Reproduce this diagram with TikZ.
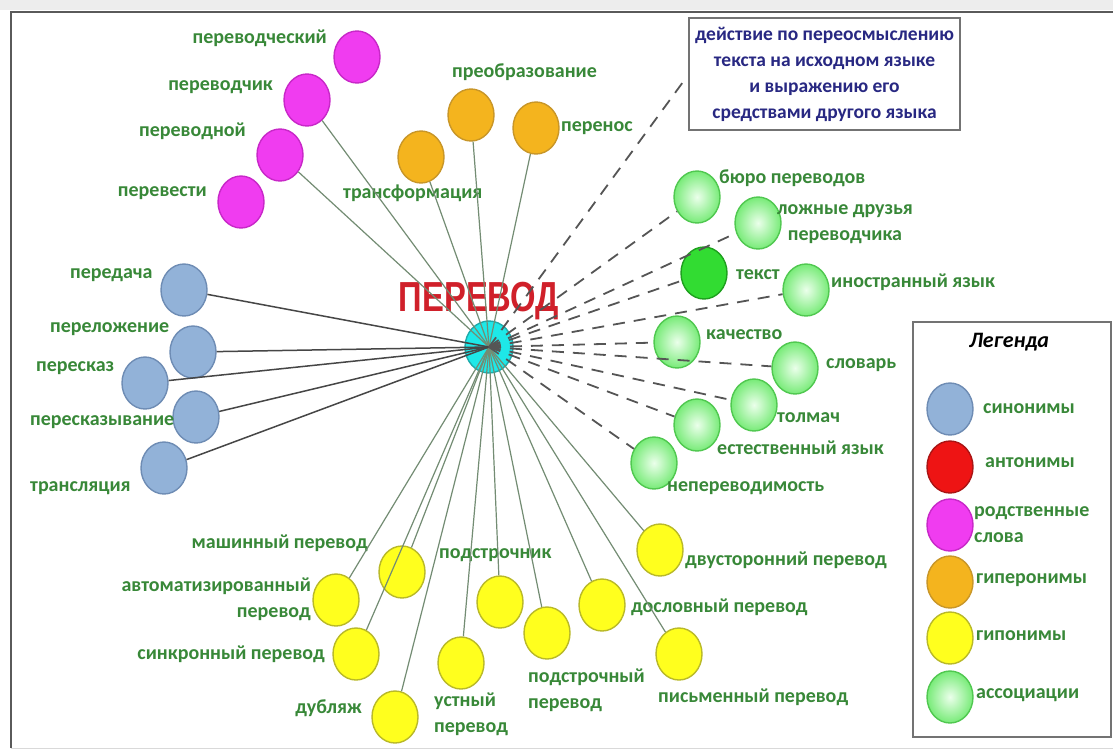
\documentclass[tikz,border=0pt]{standalone}
\usepackage{fontspec}
\setmainfont{Carlito}
\newfontfamily\titlefont{Liberation Sans}
\usetikzlibrary{shapes.geometric}
\definecolor{magF}{RGB}{240,60,240}
\definecolor{magD}{RGB}{200,40,200}
\definecolor{orF}{RGB}{244,180,30}
\definecolor{orD}{RGB}{200,150,40}
\definecolor{blF}{RGB}{146,178,216}
\definecolor{blD}{RGB}{110,140,180}
\definecolor{yeF}{RGB}{255,255,30}
\definecolor{yeD}{RGB}{185,185,40}
\definecolor{grIn}{RGB}{235,255,235}
\definecolor{grOut}{RGB}{120,235,120}
\definecolor{grD}{RGB}{80,200,80}
\definecolor{txF}{RGB}{50,220,50}
\definecolor{txD}{RGB}{30,160,30}
\definecolor{rdF}{RGB}{238,20,20}
\definecolor{rdD}{RGB}{170,20,20}
\definecolor{cyF}{RGB}{30,232,232}
\definecolor{cyD}{RGB}{30,170,170}
\definecolor{lblC}{RGB}{56,136,56}
\definecolor{defC}{RGB}{40,40,130}
\definecolor{titleC}{RGB}{208,32,42}
\definecolor{edgeC}{RGB}{115,140,115}
\definecolor{synC}{RGB}{70,70,70}
\definecolor{dashC}{RGB}{85,85,85}
\definecolor{frameC}{RGB}{90,90,90}
\begin{document}
\begin{tikzpicture}[x=1pt,y=-1pt,
  ball/.style={ellipse,minimum width=46pt,minimum height=52pt,inner sep=0pt,line width=1.4pt},
  mag/.style={ball,fill=magF,draw=magD},
  ora/.style={ball,fill=orF,draw=orD},
  blu/.style={ball,fill=blF,draw=blD},
  yel/.style={ball,fill=yeF,draw=yeD},
  gre/.style={ball,inner color=grIn,outer color=grOut,draw=grD},
  txt/.style={ball,fill=txF,draw=txD},
  red/.style={ball,fill=rdF,draw=rdD},
  hubnode/.style={ball,minimum width=48pt,minimum height=52pt,fill=cyF,draw=cyD},
  lbl/.style={font=\bfseries\fontsize{20}{26}\selectfont,text=lblC,inner sep=0pt},
  edgeline/.style={draw=edgeC,line width=1.2pt},
  synline/.style={draw=synC,line width=1.5pt},
  assocline/.style={draw=dashC,line width=1.8pt,dash pattern=on 12pt off 9pt}
]
\useasboundingbox (0,0) rectangle (1113,753);
\fill[white] (0,0) rectangle (1113,753);
\fill[black!7] (0,0) rectangle (1113,10);
\draw[frameC,line width=2.5pt] (1113,12) -- (11,12) -- (11,748);
\draw[black!15,line width=1pt] (11,748) -- (1113,748);

% title
\node[font=\titlefont\bfseries\fontsize{42}{42}\selectfont,text=titleC,xscale=0.78,inner sep=0pt] (title) at (479,301) {ПЕРЕВОД};

% definition box
\node[draw=black!55,line width=2pt,minimum width=271pt,minimum height=112pt,align=center,
  font=\bfseries\fontsize{19.5}{26}\selectfont,text=defC,inner sep=2pt] (def) at (824.5,74)
  {действие по переосмыслению\\текста на исходном языке\\и выражению его\\средствами другого языка};
\coordinate (defend) at (683,82);

% hub
\node[hubnode] (hub) at (489,347) {};

% magenta
\node[mag] (m1) at (357,57) {};
\node[mag] (m2) at (307,100) {};
\node[mag] (m3) at (280,155) {};
\node[mag] (m4) at (241,202) {};
\node[lbl,anchor=east] (lm1) at (327,38) {переводческий};
\node[lbl,anchor=east] (lm2) at (273,87) {переводчик};
\node[lbl,anchor=east] (lm3) at (246,131) {переводной};
\node[lbl,anchor=east] (lm4) at (207,193) {перевести};

% orange
\node[ora] (o1) at (471,115) {};
\node[ora] (o2) at (536,128) {};
\node[ora] (o3) at (421,157) {};
\node[lbl,anchor=west] (lo1) at (452,72) {преобразование};
\node[lbl,anchor=west] (lo2) at (561,128) {перенос};
\node[lbl,anchor=west] (lo3) at (343,193) {трансформация};

% blue
\node[blu] (b1) at (184,290) {};
\node[blu] (b2) at (193,352) {};
\node[blu] (b3) at (145,383) {};
\node[blu] (b4) at (196,417) {};
\node[blu] (b5) at (164,468) {};
\node[lbl,anchor=west] (lb1) at (70,275) {передача};
\node[lbl,anchor=west] (lb2) at (50,329) {переложение};
\node[lbl,anchor=west] (lb3) at (36,368) {пересказ};
\node[lbl,anchor=west] (lb4) at (30,422) {пересказывание};
\node[lbl,anchor=west] (lb5) at (30,488) {трансляция};

% green
\node[gre] (g1) at (697,197) {};
\node[gre] (g2) at (758,223) {};
\node[txt] (g3) at (704,273) {};
\node[gre] (g4) at (806,290) {};
\node[gre] (g5) at (677,342) {};
\node[gre] (g6) at (795,368) {};
\node[gre] (g7) at (754,405) {};
\node[gre] (g8) at (697,425) {};
\node[gre] (g9) at (654,463) {};
\node[lbl,anchor=west] (lg1) at (719,178) {бюро переводов};
\node[lbl,align=center] (lg2) at (845,224) {ложные друзья\\переводчика};
\node[lbl,anchor=west] (lg3) at (736,275) {текст};
\node[lbl,anchor=west] (lg4) at (831,282) {иностранный язык};
\node[lbl,anchor=west] (lg5) at (706,335) {качество};
\node[lbl,anchor=west] (lg6) at (826,365) {словарь};
\node[lbl,anchor=west] (lg7) at (777,418) {толмач};
\node[lbl,anchor=west] (lg8) at (717,448) {естественный язык};
\node[lbl,anchor=west] (lg9) at (667,488) {непереводимость};

% yellow
\node[yel] (y1) at (402,572) {};
\node[yel] (y2) at (336,600) {};
\node[yel] (y3) at (356,654) {};
\node[yel] (y4) at (395,717) {};
\node[yel] (y5) at (461,663) {};
\node[yel] (y6) at (500,602) {};
\node[yel] (y7) at (547,633) {};
\node[yel] (y8) at (602,605) {};
\node[yel] (y9) at (660,550) {};
\node[yel] (y10) at (679,654) {};
\node[lbl,anchor=east] (ly1) at (368,543) {машинный перевод};
\node[lbl,anchor=east,align=right] (ly2) at (311,599) {автоматизированный\\перевод};
\node[lbl,anchor=east] (ly3) at (325,654) {синкронный перевод};
\node[lbl,anchor=east] (ly4) at (362,708) {дубляж};
\node[lbl,anchor=west,align=left] (ly5) at (434,714) {устный\\перевод};
\node[lbl,anchor=west] (ly6) at (439,555) {подстрочник};
\node[lbl,anchor=west,align=left] (ly7) at (528,690) {подстрочный\\перевод};
\node[lbl,anchor=west] (ly8) at (631,607) {дословный перевод};
\node[lbl,anchor=west] (ly9) at (685,560) {двусторонний перевод};
\node[lbl,anchor=west] (ly10) at (658,697) {письменный перевод};

% legend
\node[draw=black!55,line width=2pt,minimum width=198pt,minimum height=415pt,inner sep=0pt] (legend) at (1012,529.5) {};
\node[font=\bfseries\itshape\fontsize{22}{24}\selectfont,inner sep=0pt] (legt) at (1009,342) {Легенда};
\node[blu] (k1) at (950,409) {};
\node[red] (k2) at (950,467) {};
\node[mag] (k3) at (950,525) {};
\node[ora] (k4) at (950,582) {};
\node[yel] (k5) at (950,638) {};
\node[gre] (k6) at (950,697) {};
\node[lbl,anchor=west] (lk1) at (983,409) {синонимы};
\node[lbl,anchor=west] (lk2) at (985,463) {антонимы};
\node[lbl,anchor=west,align=left] (lk3) at (974,525) {родственные\\слова};
\node[lbl,anchor=west] (lk4) at (976,580) {гиперонимы};
\node[lbl,anchor=west] (lk5) at (976,636) {гипонимы};
\node[lbl,anchor=west] (lk6) at (976,695) {ассоциации};

% connectors
\foreach \n in {m2,m3,o1,o2,o3,y1,y2,y3,y4,y5,y6,y7,y8,y9,y10}
  \draw[edgeline] (hub.center) -- (\n);
\foreach \n in {b1,b2,b3,b4,b5}
  \draw[synline] (\n) -- (hub.center);
\foreach \n in {g1,g2,g3,g4,g5,g6,g7,g8,g9}
  \draw[assocline] (hub.center) -- (\n);
\draw[assocline] (hub.center) -- (defend);
\end{tikzpicture}
\end{document}
